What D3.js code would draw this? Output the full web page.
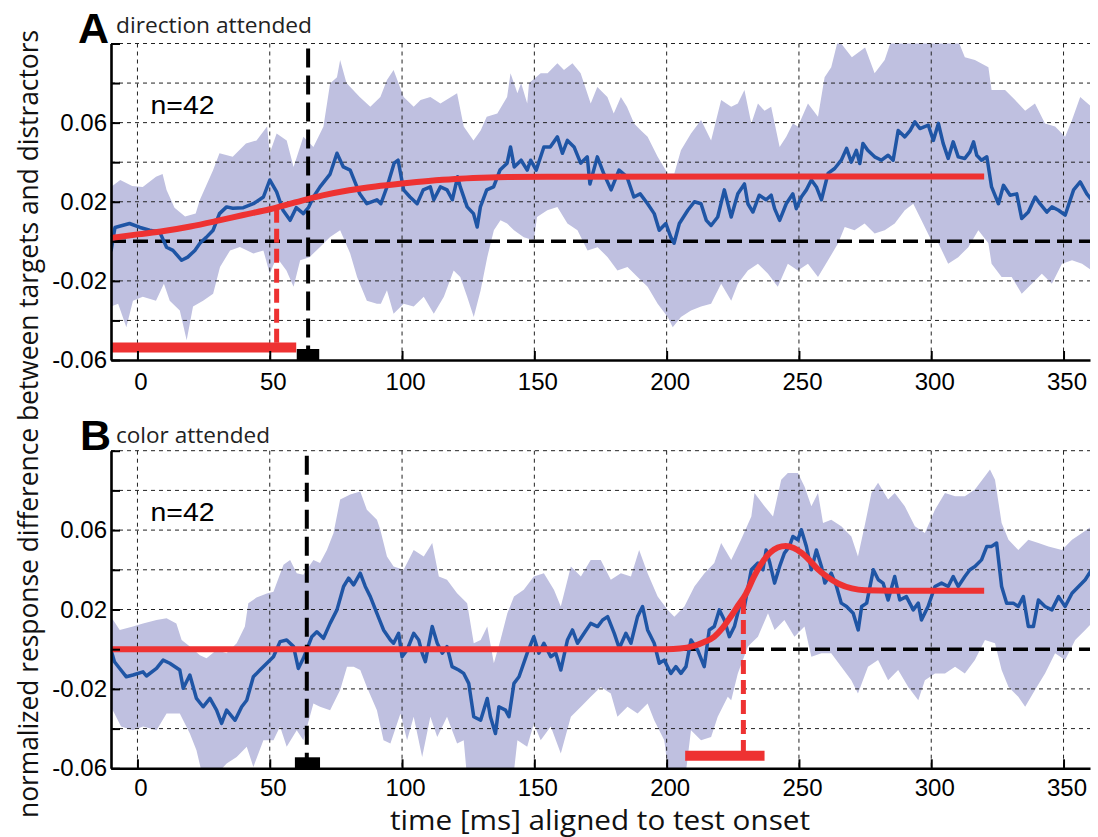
<!DOCTYPE html>
<html><head><meta charset="utf-8">
<script src="https://cdn.jsdelivr.net/npm/d3@7"></script>
<style>body{margin:0;background:#fff}svg{display:block}</style>
</head><body><svg id="chart" width="1098" height="837"></svg>
<script>
// ---------------- data ----------------
const xTicks = [0, 50, 100, 150, 200, 250, 300, 350];
const yTicks = [-0.06, -0.04, -0.02, 0, 0.02, 0.04, 0.06, 0.08, 0.10];
const yLabelTicks = [-0.06, -0.02, 0.02, 0.06];
const panelLetters = ["A", "B"];
const panelTitles = ["direction attended", "color attended"];
const nLabels = ["n=42", "n=42"];
const xTitle = "time [ms] aligned to test onset";
const yTitle = "normalized response difference between targets and distractors";

// panel A: mean response difference [time ms, value]
const topMean = [[-10,-0.005],[-8.5,0.007],[-3,0.009],[1,0.007],[4.6,0.0056],[8.4,0.0047],[11,-0.003],[13.4,-0.0046],[16.7,-0.0096],[19,-0.008],[21.7,-0.0046],[23.6,-0.001],[26,0.002],[28.6,0.0056],[31,0.014],[33.7,0.0174],[36,0.0167],[40,0.017],[43.8,0.019],[47.6,0.0224],[50,0.031],[52.6,0.025],[55,0.0157],[57.7,0.0106],[60,0.017],[62.7,0.014],[64.6,0.017],[66.5,0.0224],[69,0.0275],[72.8,0.034],[75.4,0.0445],[77.8,0.0376],[80.4,0.036],[84,0.024],[86.7,0.019],[90.5,0.021],[92,0.019],[94.3,0.0275],[97,0.0395],[98.5,0.041],[100.6,0.026],[103,0.0224],[105.7,0.019],[108,0.026],[110.7,0.0275],[112,0.021],[114.5,0.0275],[117,0.026],[119,0.021],[121,0.0326],[122,0.0275],[124.6,0.0174],[127,0.014],[128.4,0.0072],[129.6,0.0174],[132,0.026],[134.6,0.0275],[137,0.036],[139.7,0.0395],[141,0.0477],[142.4,0.0376],[145,0.041],[147.3,0.036],[148.6,0.041],[150.7,0.036],[153.6,0.0477],[156,0.0477],[158.7,0.0528],[160.6,0.0445],[162.5,0.051],[165,0.0477],[167.5,0.0395],[170,0.0427],[171,0.029],[173.8,0.0427],[176.3,0.034],[179,0.026],[182,0.036],[185,0.0326],[187.6,0.0224],[190,0.024],[192.8,0.019],[195.3,0.014],[197.2,0.0056],[199.7,0.009],[201.6,0.002],[202.8,-0.001],[204.8,0.009],[208,0.0157],[210.5,0.02],[213,0.019],[215,0.0106],[216.8,0.008],[219.3,0.0123],[221.8,0.026],[224.4,0.0123],[226.9,0.024],[229.4,0.029],[230.7,0.019],[232.6,0.0148],[235,0.0233],[237.6,0.021],[239.5,0.0233],[240.8,0.0165],[242.7,0.0106],[245.2,0.019],[247.7,0.024],[249,0.0165],[250.9,0.0224],[252.8,0.026],[254.7,0.031],[256.6,0.0275],[258.5,0.021],[261,0.0343],[263.5,0.0368],[266,0.041],[268,0.047],[269.8,0.040],[271.7,0.046],[273,0.0393],[274.2,0.0495],[276,0.046],[278.6,0.0427],[281.2,0.041],[283.7,0.0435],[285.6,0.041],[287.5,0.056],[290,0.0528],[292,0.056],[293.8,0.0604],[295.7,0.057],[298.9,0.0587],[300.8,0.051],[302.7,0.0596],[304.5,0.0495],[306.4,0.0419],[308.3,0.0503],[310.2,0.0427],[312.7,0.0419],[314.6,0.0452],[316,0.0503],[317.2,0.0435],[319,0.041],[321,0.0427],[322.8,0.0275],[325.4,0.019],[327.3,0.0283],[329.8,0.0233],[332.3,0.024],[334.2,0.0115],[336.7,0.0148],[339.3,0.0224],[341.1,0.019],[343.7,0.0148],[345.6,0.0174],[348.1,0.0157],[350.6,0.0132],[353.8,0.026],[356.3,0.030],[358.8,0.024],[360.6,0.021]];
const topUpper = [[-10,0.0275],[-6.5,0.031],[-2,0.028],[2,0.0275],[7,0.0326],[9.5,0.034],[11,0.026],[14,0.017],[18,0.0125],[22,0.014],[23.6,0.021],[28.6,0.036],[31,0.0445],[36,0.0427],[41,0.0495],[45,0.051],[49,0.058],[50,0.0445],[52.6,0.0545],[56.4,0.051],[59,0.0376],[62.7,0.0528],[66.5,0.0477],[70.3,0.058],[72.8,0.0798],[75.4,0.083],[76.6,0.0916],[79,0.08],[84,0.073],[88,0.068],[91.8,0.073],[94.3,0.0815],[96.8,0.0866],[100.6,0.073],[104.4,0.068],[107,0.0714],[110.7,0.073],[114.5,0.0697],[120.8,0.0748],[123.3,0.058],[127,0.051],[129.7,0.056],[132,0.063],[136,0.0646],[139.7,0.073],[141,0.085],[143.6,0.0748],[145,0.08],[147.3,0.0697],[148,0.08],[152.4,0.085],[155,0.085],[158.7,0.09],[161.2,0.0866],[164.4,0.09],[167.5,0.085],[171.3,0.0697],[173.8,0.078],[177.6,0.073],[180,0.0646],[182.7,0.073],[185,0.068],[187.7,0.0596],[190.3,0.056],[192.8,0.0528],[196.6,0.0427],[200.4,0.0343],[202.9,0.0343],[205.4,0.046],[209.2,0.0545],[213,0.0613],[216.8,0.051],[220.6,0.0714],[224.4,0.068],[226.9,0.0697],[229.4,0.0765],[232,0.0596],[234.5,0.0697],[237,0.066],[239.5,0.068],[242.7,0.0477],[245.2,0.0528],[247.7,0.0596],[249.6,0.058],[253.4,0.0697],[257.2,0.063],[259.7,0.083],[262.2,0.088],[264.8,0.102],[270,0.093],[275,0.098],[278.6,0.085],[282.4,0.0916],[285,0.102],[310,0.102],[312.7,0.093],[316.5,0.0916],[321.6,0.088],[322.8,0.0765],[327.9,0.0765],[331.7,0.0714],[335.5,0.066],[339.2,0.0697],[343,0.0596],[346.8,0.058],[350.6,0.0528],[353.2,0.0613],[356.3,0.073],[360.6,0.068]];
const topLower = [[-10,-0.033],[-7.3,-0.0316],[-4.2,-0.0434],[-1.7,-0.030],[2,-0.028],[7,-0.030],[10,-0.0214],[12.2,-0.030],[16,-0.035],[18.6,-0.050],[21,-0.033],[24.8,-0.030],[28.6,-0.0265],[31.2,-0.013],[35,-0.0046],[38.7,-0.0029],[43.8,-0.0062],[47.6,-0.0046],[50,-0.0164],[52.6,-0.008],[56.3,-0.0147],[59,-0.023],[61.5,-0.0096],[65,-0.008],[69,-0.0029],[72.8,0.0022],[76.6,0.0056],[80.4,-0.0062],[83,-0.018],[86.7,-0.030],[90.5,-0.0316],[92,-0.0316],[94.3,-0.0248],[96.8,-0.0366],[100.6,-0.0316],[104.4,-0.033],[108.2,-0.028],[112,-0.0366],[115.8,-0.028],[119.5,-0.0147],[122,-0.018],[124.6,-0.028],[127.1,-0.0383],[129.7,-0.0248],[132.2,-0.008],[134.7,0.0056],[137.2,0.0106],[139.7,0.009],[142.3,0.0056],[146,0.002],[149.8,0.0005],[151,0.0123],[154.9,0.0157],[158.7,0.0174],[162.5,0.009],[166.3,0.0056],[170.1,-0.0046],[173.9,-0.003],[177.7,-0.008],[181.4,-0.0147],[185.2,-0.013],[189,-0.018],[192.8,-0.023],[196.6,-0.0316],[200.4,-0.0383],[202.3,-0.0434],[205.4,-0.0383],[209.2,-0.035],[213,-0.033],[216.8,-0.0316],[220.6,-0.0214],[224.4,-0.03],[226.9,-0.0214],[230.7,-0.0147],[234.5,-0.0113],[238.3,-0.0164],[242,-0.023],[245.8,-0.0113],[249.6,-0.0147],[253.4,-0.0113],[257.2,-0.018],[261,-0.0096],[264.8,-0.001],[267.3,0.0072],[271,0.0056],[274.8,0.009],[278.6,0.0039],[282.4,0.0056],[286.2,0.009],[290,0.0157],[293.2,0.019],[296.3,0.0106],[300,0.0005],[302.7,-0.001],[306.4,-0.0113],[310.2,-0.008],[314,-0.003],[317.8,0.0056],[321.6,-0.001],[322.8,-0.0113],[326.6,-0.018],[330.4,-0.018],[334.2,-0.0265],[338,-0.0214],[341.8,-0.0164],[345.6,-0.0214],[349.4,-0.0113],[353.2,-0.0096],[357,-0.0113],[360.6,-0.0147]];
const topFit = [[-10,0.0017],[0,0.0035],[10,0.0052],[20,0.0075],[30,0.0103],[40,0.0133],[50,0.0162],[60,0.0198],[70,0.0232],[80,0.0258],[90,0.0277],[100,0.0292],[110,0.0305],[120,0.0315],[130,0.0321],[140,0.0325],[160,0.0327],[320,0.0328]];

// panel B
const botMean = [[-10,-0.0004],[-8.7,-0.0063],[-6.7,-0.0097],[-4.2,-0.0139],[-1.7,-0.013],[2.1,-0.0114],[3.4,-0.0135],[7.2,-0.0097],[9.7,-0.0055],[12.2,-0.0071],[16,-0.0105],[17.3,-0.0197],[19.8,-0.013],[22.3,-0.0248],[24.8,-0.029],[27.4,-0.0248],[29.9,-0.0307],[31.8,-0.0374],[33.7,-0.0307],[36.9,-0.0358],[39.4,-0.029],[41.3,-0.0257],[43.8,-0.0139],[46.3,-0.0105],[48.9,-0.0071],[51.4,-0.0038],[53.9,0.0038],[56.4,0.0046],[59,0.0013],[60.8,-0.0097],[62.7,-0.0046],[65.9,0.0063],[67.8,0.0088],[70.3,0.0055],[72.8,0.013],[75.4,0.0198],[77.9,0.0316],[79.8,0.0358],[81.7,0.0324],[84.2,0.0383],[86.1,0.0316],[88,0.0265],[90.5,0.0181],[93,0.0097],[95.6,0.0046],[96.8,0.003],[98.7,0.008],[100,-0.0038],[101.9,-0.0004],[104.4,0.008],[106.3,0.0046],[107.6,-0.002],[108.8,-0.0063],[111.4,0.0114],[113.3,0.003],[115.2,-0.002],[117,0.0013],[118.9,-0.0088],[121.4,-0.0105],[123.3,-0.0122],[125.2,-0.0172],[127.1,-0.034],[129.7,-0.0358],[132.2,-0.0248],[133.4,-0.034],[135.3,-0.0425],[136.6,-0.029],[139.1,-0.0307],[140.4,-0.034],[142.3,-0.0172],[144.2,-0.0139],[147.3,-0.002],[149.8,0.0063],[151.7,-0.002],[153.6,0.003],[156.2,-0.0038],[158.1,-0.002],[160,-0.0105],[162.5,0.0046],[164.4,0.0097],[166.3,0.003],[168.8,0.008],[171.3,0.013],[173.9,0.0114],[175.8,0.0147],[177.7,0.0164],[180.2,0.008],[182.1,0.0005],[184.6,0.008],[186.5,0.003],[189,0.0164],[190.9,0.0215],[192.8,0.0097],[195.3,0.003],[197.2,-0.0071],[199.1,-0.0055],[201.6,-0.0122],[203.5,-0.0088],[205.4,-0.0122],[207.3,-0.0088],[209.2,0.0046],[211.7,-0.0004],[214.2,-0.0088],[216.1,0.0097],[218,0.0114],[219.9,0.0198],[221.8,0.0147],[223.7,0.0063],[225.6,0.0114],[227.5,0.0215],[229.4,0.0215],[232,0.040],[234.5,0.0434],[236.4,0.040],[237.6,0.050],[239,0.0434],[240.8,0.0333],[242.7,0.0417],[244.5,0.0484],[246.4,0.0518],[247.7,0.0568],[249.6,0.0551],[250.9,0.0602],[252.8,0.0518],[254.7,0.040],[256.6,0.050],[258.5,0.0417],[259.8,0.0333],[262.2,0.0383],[264.2,0.0316],[266,0.0232],[268,0.0215],[270.5,0.0181],[272.4,0.0097],[273.7,0.0215],[275.6,0.0232],[278.1,0.040],[280,0.035],[281.8,0.0333],[283.7,0.0248],[286.2,0.0366],[288.1,0.0248],[290.6,0.0265],[293.2,0.0198],[295.1,0.0232],[296.3,0.0147],[298.8,0.0215],[301.4,0.0316],[303.9,0.0333],[306.4,0.0316],[308.3,0.0366],[310.2,0.0316],[312.7,0.0366],[314.6,0.040],[316.5,0.0417],[319,0.045],[321,0.0518],[322.8,0.0518],[324.7,0.0535],[326.6,0.0316],[328.5,0.0232],[331,0.0232],[332.9,0.0215],[334.8,0.0265],[336.7,0.0114],[338.6,0.0114],[340.5,0.0248],[343,0.0215],[345.6,0.0198],[348.1,0.0265],[350.6,0.0215],[353.2,0.0282],[355.7,0.0316],[358.2,0.035],[360.6,0.040]];
const botUpper = [[-10,0.0164],[-6.7,0.0097],[-1.7,0.0114],[2.1,0.013],[7.2,0.0147],[11,0.0156],[14.7,0.013],[16.7,0.0046],[19.8,0.0013],[23.6,-0.003],[26.1,-0.0046],[29.9,-0.0004],[33.7,-0.002],[37.5,0.003],[40.6,0.0114],[41.9,0.0232],[45,0.026],[48.9,0.028],[51.4,0.029],[55.2,0.0425],[57.7,0.045],[60.2,0.0383],[62.7,0.0375],[66.5,0.045],[69,0.0434],[71.6,0.050],[74.1,0.0585],[76.6,0.0754],[80.4,0.0779],[84.2,0.0795],[86.7,0.0703],[90.5,0.0652],[91.8,0.060],[94.3,0.0467],[96.8,0.0417],[100.6,0.040],[104.4,0.050],[108.2,0.0467],[111.4,0.0535],[113.9,0.0366],[117,0.035],[120.8,0.0282],[124.6,0.0232],[127.1,0.003],[129.7,0.0046],[132.2,0.0114],[134.7,-0.0071],[137.2,0.0046],[139.8,0.0181],[142.3,0.0265],[146,0.030],[149.8,0.0366],[153.6,0.0383],[157.4,0.030],[160,0.0215],[163.8,0.0417],[167.6,0.0366],[171.3,0.045],[175.1,0.045],[178.9,0.035],[182.7,0.0383],[186.5,0.0366],[189.6,0.050],[192.8,0.0383],[196.6,0.0265],[200.4,0.0198],[202.9,0.0164],[206.7,0.0215],[210.5,0.0316],[214.3,0.0383],[218,0.0434],[220.6,0.0535],[224.4,0.045],[227.5,0.0535],[228.1,0.0551],[232,0.0669],[233.2,0.0787],[237,0.072],[240.2,0.0669],[243.3,0.0854],[245.8,0.0888],[249.6,0.0888],[252.1,0.082],[254.7,0.072],[257.2,0.0787],[259.1,0.0636],[262.2,0.0652],[266,0.0619],[269.8,0.0568],[272.3,0.0467],[274.8,0.0619],[277.4,0.0787],[279.9,0.0838],[283.7,0.0754],[286.2,0.0787],[290,0.072],[293.8,0.0619],[297.6,0.0585],[301.4,0.0703],[305.2,0.0787],[309,0.077],[312.7,0.077],[316.5,0.0804],[320.3,0.0871],[322.2,0.0905],[324.1,0.0854],[326.6,0.0636],[329.2,0.0551],[332.9,0.050],[336.7,0.0551],[340.5,0.0535],[344.3,0.0518],[349.4,0.050],[353.2,0.0551],[357,0.0585],[360.6,0.0619]];
const botLower = [[-10,-0.029],[-6.2,-0.039],[-1.7,-0.0408],[2.1,-0.039],[7.2,-0.0408],[11,-0.0324],[16,-0.0324],[19.8,-0.0425],[22.3,-0.0509],[24.8,-0.065],[28.6,-0.065],[33.7,-0.0576],[37.5,-0.0543],[41.3,-0.0492],[43.8,-0.0593],[47.6,-0.0459],[51.4,-0.0459],[53.9,-0.039],[56.4,-0.0492],[60.2,-0.0408],[62.7,-0.0459],[66.5,-0.0273],[69,-0.029],[72.8,-0.0307],[76.6,-0.0206],[79.2,-0.0088],[81.7,-0.0088],[84.2,-0.0105],[86.7,-0.019],[90.5,-0.0307],[93,-0.0459],[95.6,-0.0475],[99.4,-0.0324],[101.9,-0.0459],[104.4,-0.034],[107.6,-0.0543],[110.7,-0.034],[113.3,-0.0442],[117,-0.034],[120.8,-0.0475],[123.3,-0.0459],[124.6,-0.065],[142,-0.065],[143.6,-0.0459],[147.3,-0.0492],[149.8,-0.0374],[152.4,-0.0459],[156.2,-0.039],[160,-0.0526],[163.8,-0.034],[167.6,-0.029],[171.3,-0.024],[175.1,-0.019],[178.9,-0.0223],[181.4,-0.034],[185.2,-0.029],[189,-0.0324],[192.8,-0.0273],[195.3,-0.0358],[199.1,-0.0459],[201,-0.065],[207,-0.065],[209.2,-0.0408],[213,-0.0459],[216.8,-0.0442],[219.3,-0.034],[223.1,-0.024],[224.4,-0.0257],[226.9,-0.0122],[230.7,0.0013],[234.5,0.0063],[238.3,0.0181],[240.8,0.0097],[244.5,0.0147],[248.3,0.0063],[252.1,0.0114],[254.7,-0.0038],[258.5,-0.002],[262.2,-0.002],[266,-0.0088],[269.8,-0.0156],[272.3,-0.0223],[276.1,-0.0088],[279.9,-0.0055],[283.7,-0.0156],[287.5,-0.0105],[291.3,-0.019],[295.1,-0.0257],[297.6,-0.0156],[301.4,-0.0122],[305.2,-0.0122],[309,-0.0088],[312.7,-0.0122],[316.5,-0.0055],[320.3,0.0046],[324.1,0.003],[326.6,-0.0105],[329.2,-0.019],[332.9,-0.024],[335.5,-0.029],[339.2,-0.0206],[343,-0.0122],[346.8,-0.002],[350.6,-0.0055],[354.4,0.0046],[358.2,0.0097],[360.6,0.013]];
const botFit = [[-10,0],[200,0],[205,0.0003],[210,0.0015],[214,0.0035],[218,0.0063],[221,0.0105],[224,0.016],[227,0.022],[230,0.028],[233,0.0365],[236,0.0435],[239,0.0485],[242,0.0512],[245,0.052],[248,0.051],[251,0.0485],[254,0.0448],[257,0.0405],[261,0.0362],[265,0.033],[270,0.0306],[275,0.0297],[285,0.0295],[320,0.0295]];

// latency markers: [time, fit level], bar span, bar level
const latencyTime = [52.6, 229];
const latencyLevel = [0.0165, 0.0248];
const latencyBar = [[-10, 60], [207, 237]];
const latencyBarLevel = -0.0537;
// onset markers (black)
const onsetTime = [64.5, 64];
const onsetBox = [[60.2, 68.7], [59.5, 69]];

// ---------------- drawing ----------------
const svg = d3.select("#chart");
const X0 = 111, X1 = 1090;
const x = d3.scaleLinear().domain([-10, 360]).range([X0, X1]);

const panels = [
  {top: 43.5, bottom: 360, labelPad: 13, mean: topMean, upper: topUpper, lower: topLower, fit: topFit},
  {top: 450.7, bottom: 768.3, labelPad: 10.5, mean: botMean, upper: botUpper, lower: botLower, fit: botFit}
];

const BAND = "#bfc0e0", BLUE = "#1f55a5", RED = "#ee3232";

panels.forEach((p, i) => {
  const y = d3.scaleLinear().domain([-0.06, 0.10]).range([p.bottom, p.top]);
  const g = svg.append("g");
  const clipId = "clip" + i;
  svg.append("defs").append("clipPath").attr("id", clipId)
    .append("rect").attr("x", X0).attr("y", p.top).attr("width", X1 - X0).attr("height", p.bottom - p.top);

  const line = d3.line().x(d => x(d[0])).y(d => y(d[1]));

  // band
  const poly = p.upper.concat(p.lower.slice().reverse());
  g.append("path").attr("d", line(poly) + "Z").attr("fill", BAND).attr("clip-path", `url(#${clipId})`);

  // grid
  const grid = g.append("g").attr("stroke", "#222").attr("stroke-width", 1).attr("stroke-dasharray", "4,4");
  yTicks.filter(v => v !== 0 && v !== -0.06).forEach(v => {
    grid.append("line").attr("x1", X0).attr("x2", X1).attr("y1", y(v)).attr("y2", y(v));
  });
  xTicks.forEach(t => {
    grid.append("line").attr("x1", x(t)).attr("x2", x(t)).attr("y1", p.top).attr("y2", p.bottom);
  });

  // zero line
  g.append("line").attr("x1", X0).attr("x2", X1).attr("y1", y(0)).attr("y2", y(0))
    .attr("stroke", "#000").attr("stroke-width", 3.5).attr("stroke-dasharray", "15,7");

  // mean line
  g.append("path").attr("d", line(p.mean)).attr("fill", "none").attr("stroke", BLUE)
    .attr("stroke-width", 3.5).attr("stroke-linejoin", "round").attr("clip-path", `url(#${clipId})`);

  // onset marker
  g.append("line").attr("x1", x(onsetTime[i])).attr("x2", x(onsetTime[i]))
    .attr("y1", p.top + 5).attr("y2", p.bottom)
    .attr("stroke", "#000").attr("stroke-width", 4).attr("stroke-dasharray", "19,8");
  g.append("rect").attr("x", x(onsetBox[i][0])).attr("width", x(onsetBox[i][1]) - x(onsetBox[i][0]))
    .attr("y", p.bottom - 11).attr("height", 11).attr("fill", "#000");

  // fit curve
  g.append("path").attr("d", d3.line().x(d => x(d[0])).y(d => y(d[1])).curve(d3.curveMonotoneX)(p.fit))
    .attr("fill", "none").attr("stroke", RED).attr("stroke-width", 6);

  // latency
  g.append("line").attr("x1", x(latencyTime[i])).attr("x2", x(latencyTime[i]))
    .attr("y1", y(latencyLevel[i])).attr("y2", y(latencyBarLevel))
    .attr("stroke", RED).attr("stroke-width", 5).attr("stroke-dasharray", "14,6");
  g.append("line").attr("x1", x(latencyBar[i][0])).attr("x2", x(latencyBar[i][1]))
    .attr("y1", y(latencyBarLevel)).attr("y2", y(latencyBarLevel))
    .attr("stroke", RED).attr("stroke-width", 10);

  // axes
  const yAxis = d3.axisLeft(y).tickValues(yTicks).tickSizeInner(-9).tickSizeOuter(0).tickPadding(4)
    .tickFormat(v => yLabelTicks.some(l => Math.abs(l - v) < 1e-9) ? (v < 0 ? "-" : "") + Math.abs(v).toFixed(2) : "");
  const ya = svg.append("g").attr("transform", `translate(${X0},0)`).call(yAxis);
  const xAxis = d3.axisBottom(x).tickValues(xTicks).tickSizeInner(-9).tickSizeOuter(0).tickPadding(p.labelPad)
    .tickFormat(d3.format("d"));
  const xa = svg.append("g").attr("transform", `translate(0,${p.bottom})`).call(xAxis);
  [ya, xa].forEach(a => {
    a.select(".domain").attr("stroke", "#000").attr("stroke-width", 2.6);
    a.selectAll(".tick line").attr("stroke", "#000").attr("stroke-width", 2);
    a.selectAll("text").attr("font-family", "'Liberation Sans', Arial, sans-serif")
      .attr("font-size", 24).attr("fill", "#000");
  });
  xa.selectAll("text").attr("dx", 3);

  // labels
  svg.append("text").attr("x", i === 0 ? 78 : 80).attr("y", i === 0 ? 43 : 450)
    .attr("font-family", "'Liberation Sans', Arial, sans-serif").attr("font-weight", "bold")
    .attr("font-size", 43).text(panelLetters[i]);
  svg.append("text").attr("x", 116).attr("y", i === 0 ? 33 : 442.5)
    .attr("font-family", "'Open Sans', sans-serif").attr("font-size", 22).attr("fill", "#222")
    .attr("textLength", i === 0 ? 196 : 154).attr("lengthAdjust", "spacingAndGlyphs")
    .text(panelTitles[i]);
  svg.append("text").attr("x", 150.5).attr("y", i === 0 ? 114 : 521)
    .attr("font-family", "'Liberation Sans', Arial, sans-serif").attr("font-size", 25)
    .attr("textLength", 64).attr("lengthAdjust", "spacingAndGlyphs").text(nLabels[i]);
});

svg.append("text").attr("x", 600).attr("y", 830).attr("text-anchor", "middle")
  .attr("font-family", "'Open Sans', sans-serif").attr("font-size", 28).attr("fill", "#111")
  .attr("textLength", 420).attr("lengthAdjust", "spacingAndGlyphs").text(xTitle);
svg.append("text").attr("transform", "translate(38,424) rotate(-90)").attr("text-anchor", "middle")
  .attr("font-family", "'Open Sans', sans-serif").attr("font-size", 28).attr("fill", "#111")
  .attr("textLength", 788).attr("lengthAdjust", "spacingAndGlyphs").text(yTitle);
</script></body></html>
